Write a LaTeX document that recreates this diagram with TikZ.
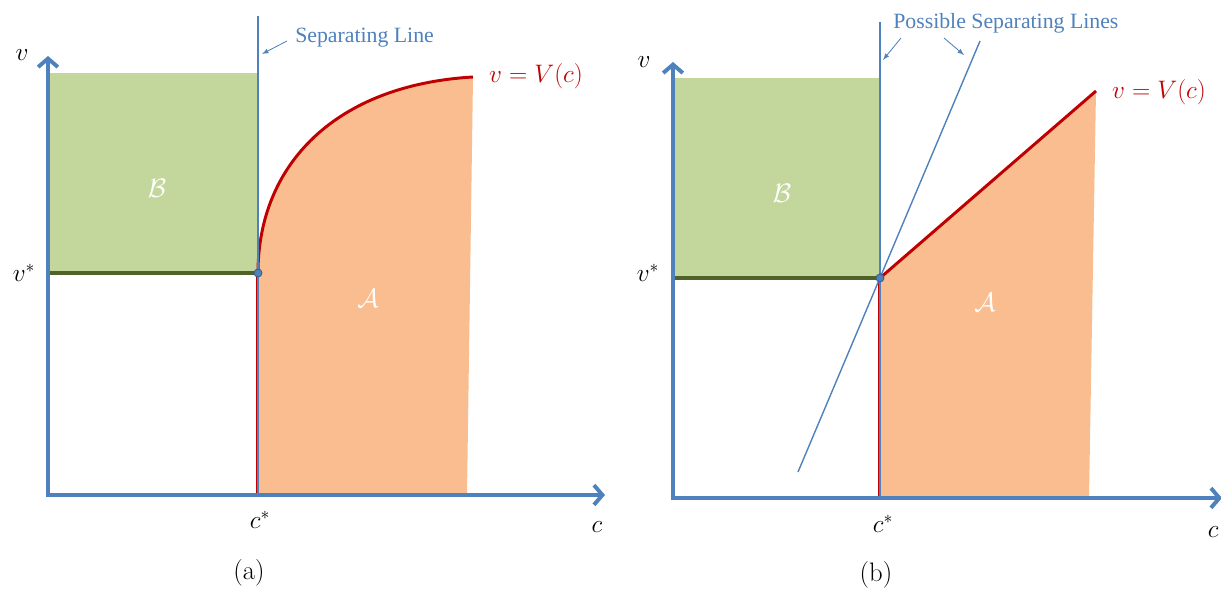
\documentclass[tikz,border=0pt]{standalone}
\usepackage{fix-cm}
\usepackage{fontspec}
\newfontfamily\annotfont{Liberation Serif}
\usetikzlibrary{arrows.meta}
\definecolor{axisblue}{RGB}{79,129,189}
\definecolor{curvered}{RGB}{192,0,0}
\definecolor{regiongreen}{RGB}{195,214,155}
\definecolor{edgegreen}{RGB}{79,98,40}
\definecolor{regionorange}{RGB}{249,189,143}
\definecolor{dotblue}{RGB}{56,93,138}
\begin{document}
\begin{tikzpicture}[
    axis/.style={line width=2.8pt, axisblue, ->, >={Straight Barb[length=6pt,width=14pt]}},
    sepline/.style={line width=1pt, axisblue},
    pointer/.style={line width=0.6pt, axisblue, ->, >=latex},
    annot/.style={inner sep=0pt, text=axisblue, font=\annotfont\fontsize{15.5}{18}\selectfont},
    mlabel/.style={inner sep=0pt, font=\fontsize{18}{21}\selectfont},
    setlabel/.style={inner sep=0pt, text=white, font=\fontsize{19}{22}\selectfont},
    caption/.style={inner sep=0pt, font=\fontsize{19}{22}\selectfont},
    dot/.style={circle, fill=axisblue, draw=dotblue, line width=0.6pt, inner sep=0pt, minimum size=0.2cm}
]
    \useasboundingbox (0,0) rectangle (30.525,14.75);

    % ---- (a) ----
    \coordinate (oa) at (1.2,2.375);
    \coordinate (xa) at (15.125,2.375);
    \coordinate (ya) at (1.2,13.35);
    \coordinate (ka) at (6.45,7.925);
    \coordinate (ta) at (11.825,12.825);
    \fill[regiongreen] (1.25,7.925) rectangle (6.45,12.925);
    \fill[regionorange] (ka) .. controls (6.45,10.625) and (8.375,12.625) .. (ta) -- (11.675,2.375) -- (6.45,2.375) -- cycle;
    \draw[line width=2.2pt, edgegreen] (1.2,7.925) -- (ka);
    \draw[line width=1pt, edgegreen] (ka) -- (6.45,12.925);
    \draw[line width=1pt, curvered] (6.42,7.925) -- (6.42,2.375);
    \draw[line width=2.1pt, curvered] (ka) .. controls (6.45,10.625) and (8.375,12.625) .. (ta);
    \draw[sepline] (6.45,14.35) -- (6.45,2.375);
    \draw[axis] ([xshift=-1.4pt]oa) -- (xa);
    \draw[axis] ([yshift=-1.4pt]oa) -- (ya);
    \node[dot] (pa) at (ka) {};
    \node[annot, anchor=base west] (seplbl) at (7.375,13.675) {Separating Line};
    \coordinate (sepa) at (6.55,13.4);
    \draw[pointer] ([xshift=-0.2cm,yshift=0.05cm]seplbl.base west) -- (sepa);
    \node[mlabel, text=curvered] (vca) at (13.4,12.85) {$v=V(c)$};
    \node[setlabel] (Ba) at (3.925,10.05) {$\mathcal{B}$};
    \node[setlabel] (Aa) at (9.2,7.3) {$\mathcal{A}$};
    \node[mlabel] (vsa) at (0.6,7.925) {$v^{*}$};
    \node[mlabel] (va) at (0.55,13.375) {$v$};
    \node[mlabel] (csa) at (6.5,1.75) {$c^{*}$};
    \node[mlabel] (ca) at (14.925,1.575) {$c$};
    \node[caption] (capa) at (6.225,0.425) {(a)};

    % ---- (b) ----
    \coordinate (ob) at (16.825,2.3);
    \coordinate (xb) at (30.55,2.3);
    \coordinate (yb) at (16.825,13.2);
    \coordinate (kb) at (22.0,7.8);
    \coordinate (tb) at (27.4,12.475);
    \fill[regiongreen] (16.875,7.8) rectangle (22.0,12.8);
    \fill[regionorange] (kb) -- (tb) -- (27.225,2.3) -- (22.0,2.3) -- cycle;
    \draw[line width=2.2pt, edgegreen] (16.825,7.8) -- (kb);
    \draw[line width=1pt, edgegreen] (kb) -- (22.0,12.8);
    \draw[line width=1pt, curvered] (21.97,7.8) -- (21.97,2.3);
    \draw[line width=2.1pt, curvered] (kb) -- (tb);
    \draw[sepline] (22.0,14.2) -- (22.0,2.3);
    \draw[sepline] (19.95,2.95) -- (24.5,13.725);
    \draw[axis] ([xshift=-1.4pt]ob) -- (xb);
    \draw[axis] ([yshift=-1.4pt]ob) -- (yb);
    \node[dot] (pb) at (kb) {};
    \node[annot, anchor=base west] (posslbl) at (22.325,14.025) {Possible Separating Lines};
    \coordinate (sepb) at (22.075,13.25);
    \coordinate (slantb) at (24.1,13.375);
    \draw[pointer] ([xshift=0.2cm,yshift=-0.225cm]posslbl.base west) -- (sepb);
    \draw[pointer] ([xshift=1.275cm,yshift=-0.225cm]posslbl.base west) -- (slantb);
    \node[mlabel, text=curvered] (vcb) at (28.975,12.45) {$v=V(c)$};
    \node[setlabel] (Bb) at (19.55,9.925) {$\mathcal{B}$};
    \node[setlabel] (Ab) at (24.625,7.2) {$\mathcal{A}$};
    \node[mlabel] (vsb) at (16.2,7.925) {$v^{*}$};
    \node[mlabel] (vb) at (16.1,13.2) {$v$};
    \node[mlabel] (csb) at (22.075,1.65) {$c^{*}$};
    \node[mlabel] (cb) at (30.33,1.45) {$c$};
    \node[caption] (capb) at (21.9,0.375) {(b)};
\end{tikzpicture}
\end{document}
